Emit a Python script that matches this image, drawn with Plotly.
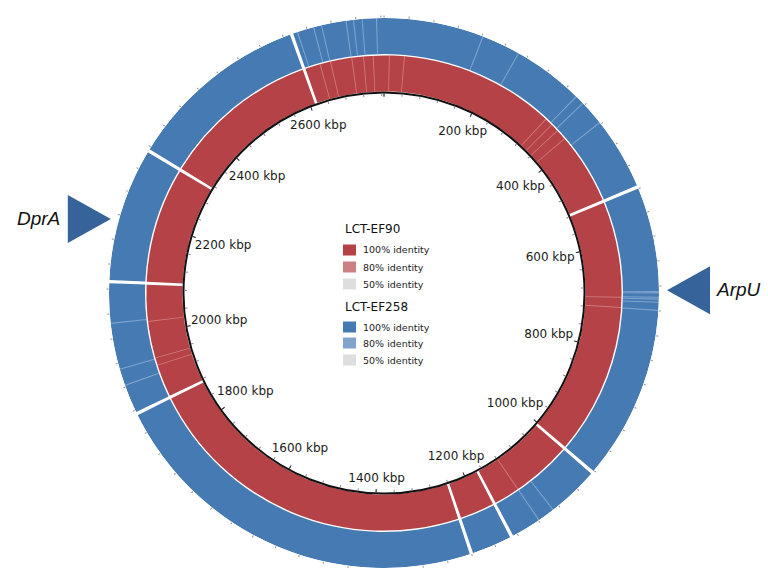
import math
import plotly.graph_objects as go

# ---------------- data ----------------
GENOME_KBP = 2765

tick_label_kbp = [200, 400, 600, 800, 1000, 1200, 1400, 1600, 1800, 2000, 2200, 2400, 2600]
tick_labels = ["200 kbp", "400 kbp", "600 kbp", "800 kbp", "1000 kbp", "1200 kbp", "1400 kbp",
               "1600 kbp", "1800 kbp", "2000 kbp", "2200 kbp", "2400 kbp", "2600 kbp"]

# positions (kbp) of unaligned breaks (white gaps) in each ring
ef90_gaps_kbp = [517, 1004, 1170, 1240, 1874, 2092, 2313, 2614]
ef258_gaps_kbp = [517, 1004, 1170, 1240, 1874, 2092, 2313, 2614]

# positions (kbp) of thin lower-identity streaks
ef90_faint_kbp = [10, 38, 330, 345, 360, 380, 699, 718, 1119, 1938, 1952, 2021, 2645, 2665, 2705, 2727, 2745]
ef258_faint_kbp = [162, 225, 341, 356, 397, 689, 691, 698, 701, 706, 719, 1091, 1119,
                   1923, 1950, 2025, 2624, 2651, 2664, 2704, 2716, 2730, 2753]

genes = ["DprA", "ArpU"]
gene_kbp = [2190, 687]

legend_groups = ["LCT-EF90", "LCT-EF258"]
legend_items = ["100% identity", "80% identity", "50% identity"]
ef90_colors = ["rgb(180,66,70)", "rgb(205,128,132)", "rgb(222,222,222)"]
ef258_colors = ["rgb(70,122,178)", "rgb(128,164,204)", "rgb(222,222,222)"]

# ---------------- helpers ----------------
W, H = 768, 568
CX, CY = 384, 293  # centre (px, from top)


def deg(k):
    return k / GENOME_KBP * 360.0


def segments(gaps, w):
    g = sorted(gaps)
    cents, widths = [], []
    for i, a in enumerate(g):
        b = g[(i + 1) % len(g)]
        if b <= a:
            b += GENOME_KBP
        s, e = a + w / 2, b - w / 2
        cents.append(deg(((s + e) / 2) % GENOME_KBP))
        widths.append(deg(e - s))
    return cents, widths


def px(x):
    return x / W


def py(y):
    return 1 - y / H


R_OUT_PX = 275  # available pixel radius for outer polar
R_MAX = 277     # radial units
R_IN = 202      # inner black circle (radial units)
RED_BASE, RED_TOP = 203, 239.3
BLUE_BASE, BLUE_TOP = 240.7, 277
GAP_W = 5.5
FAINT_W = 1.8
TIP_R_PX = 283
TRI_LEN, TRI_HALF = 43, 24


def label_r(k, text):
    # keep the label box inside the tick circle: pull wide labels in on the sides
    half_w = len(text) * 3.5
    return 188 - 0.71 * half_w * abs(math.sin(math.radians(deg(k))))


fig = go.Figure()

# rings
for gaps, base, top, col in [(ef90_gaps_kbp, RED_BASE, RED_TOP, ef90_colors[0]),
                             (ef258_gaps_kbp, BLUE_BASE, BLUE_TOP, ef258_colors[0])]:
    c, wd = segments(gaps, GAP_W)
    fig.add_trace(go.Barpolar(theta=c, width=wd, base=[base] * len(c), r=[top - base] * len(c),
                              marker=dict(color=col, line=dict(width=0)), hoverinfo="skip",
                              subplot="polar"))

# faint streaks
for faint, base, top, col in [(ef90_faint_kbp, RED_BASE, RED_TOP, "rgba(235,175,178,0.5)"),
                              (ef258_faint_kbp, BLUE_BASE, BLUE_TOP, "rgba(180,206,235,0.5)")]:
    fig.add_trace(go.Barpolar(theta=[deg(k) for k in faint], width=[deg(FAINT_W)] * len(faint),
                              base=[base] * len(faint), r=[top - base] * len(faint),
                              marker=dict(color=col, line=dict(width=0)), hoverinfo="skip",
                              subplot="polar"))

# gene arrowheads (pixel-space overlay axes, positioned from the gene coordinate)
for g, k in zip(genes, gene_kbp):
    a = math.radians(deg(k))
    tx = CX + TIP_R_PX * math.sin(a)
    ty = CY - TIP_R_PX * math.cos(a)
    side = -1 if tx < CX else 1  # triangle lies outside the ring
    bx = tx + side * TRI_LEN
    fig.add_trace(go.Scatter(x=[tx, bx, bx, tx], y=[ty, ty - TRI_HALF, ty + TRI_HALF, ty],
                             mode="lines", fill="toself", fillcolor="rgb(54,99,154)",
                             line=dict(width=0, color="rgb(54,99,154)"), hoverinfo="skip"))
    fig.add_annotation(x=bx + side * 29, y=ty - 1, xref="x", yref="y", text="<i>" + g + "</i>",
                       showarrow=False, xanchor="center", yanchor="middle",
                       font=dict(family="Liberation Sans", size=19, color="#111"))

# inner circle ticks (minor) and labels (major polar)
fig.add_trace(go.Scatterpolar(theta=[], r=[], mode="markers", subplot="polar2", hoverinfo="skip"))
fig.add_trace(go.Scatterpolar(theta=[deg(k) for k in tick_label_kbp],
                              r=[label_r(k, t) for k, t in zip(tick_label_kbp, tick_labels)],
                              mode="text", text=tick_labels,
                              textfont=dict(family="DejaVu Sans", size=12, color="#1a1a1a"),
                              hoverinfo="skip", subplot="polar3"))

ang_common = dict(rotation=90, direction="clockwise", showgrid=False, showticklabels=False,
                  tickmode="array")
r_in_px = R_IN * R_OUT_PX / R_MAX
inner_dom_x = [px(CX - r_in_px), px(CX + r_in_px)]
inner_dom_y = [(H - CY - r_in_px) / H, (H - CY + r_in_px) / H]

fig.update_layout(
    width=W, height=H, margin=dict(l=0, r=0, t=0, b=0),
    paper_bgcolor="white", plot_bgcolor="rgba(0,0,0,0)", showlegend=False,
    xaxis=dict(range=[0, W], visible=False, domain=[0, 1], fixedrange=True),
    yaxis=dict(range=[H, 0], visible=False, domain=[0, 1], fixedrange=True),
    polar=dict(
        domain=dict(x=[px(CX - R_OUT_PX), px(CX + R_OUT_PX)], y=[0, (H - CY + R_OUT_PX) / H]),
        bgcolor="rgba(0,0,0,0)", barmode="overlay",
        radialaxis=dict(visible=False, range=[0, R_MAX]),
        angularaxis=dict(**ang_common, showline=False, ticks="outside", ticklen=2,
                         tickwidth=1, tickcolor="#8f8f8f",
                         tickvals=[deg(k) for k in range(0, GENOME_KBP, 40)]),
    ),
    polar2=dict(
        domain=dict(x=inner_dom_x, y=inner_dom_y), bgcolor="rgba(0,0,0,0)",
        radialaxis=dict(visible=False, range=[0, R_IN]),
        angularaxis=dict(**ang_common, showline=True, linecolor="#111", linewidth=2,
                         ticks="inside", ticklen=2.5, tickwidth=1, tickcolor="#888",
                         tickvals=[deg(k) for k in range(0, GENOME_KBP, 40)]),
    ),
    polar3=dict(
        domain=dict(x=inner_dom_x, y=inner_dom_y), bgcolor="rgba(0,0,0,0)",
        radialaxis=dict(visible=False, range=[0, R_IN]),
        angularaxis=dict(**ang_common, showline=False, ticks="inside", ticklen=4,
                         tickwidth=1.2, tickcolor="#333",
                         tickvals=[deg(k) for k in range(0, GENOME_KBP, 200)]),
    ),
)

# central legend
title_y = [229, 307]
row_y = [[250, 267, 284], [327, 343, 360]]
for gi, (gname, cols) in enumerate(zip(legend_groups, [ef90_colors, ef258_colors])):
    fig.add_annotation(x=px(343), y=py(title_y[gi]), xref="paper", yref="paper", text=gname,
                       xanchor="left", showarrow=False,
                       font=dict(family="DejaVu Sans", size=12, color="#111"))
    for ri, (lab, col) in enumerate(zip(legend_items, cols)):
        yc = row_y[gi][ri]
        fig.add_shape(type="rect", xref="paper", yref="paper",
                      x0=px(343), x1=px(356), y0=py(yc - 5.5), y1=py(yc + 5.5),
                      fillcolor=col, line=dict(width=0))
        fig.add_annotation(x=px(361), y=py(yc), xref="paper", yref="paper", text=lab,
                           xanchor="left", showarrow=False,
                           font=dict(family="DejaVu Sans", size=9.5, color="#222"))

fig.write_html("out.html", config={"displayModeBar": False},
               post_script="document.body.style.margin='0px';")
